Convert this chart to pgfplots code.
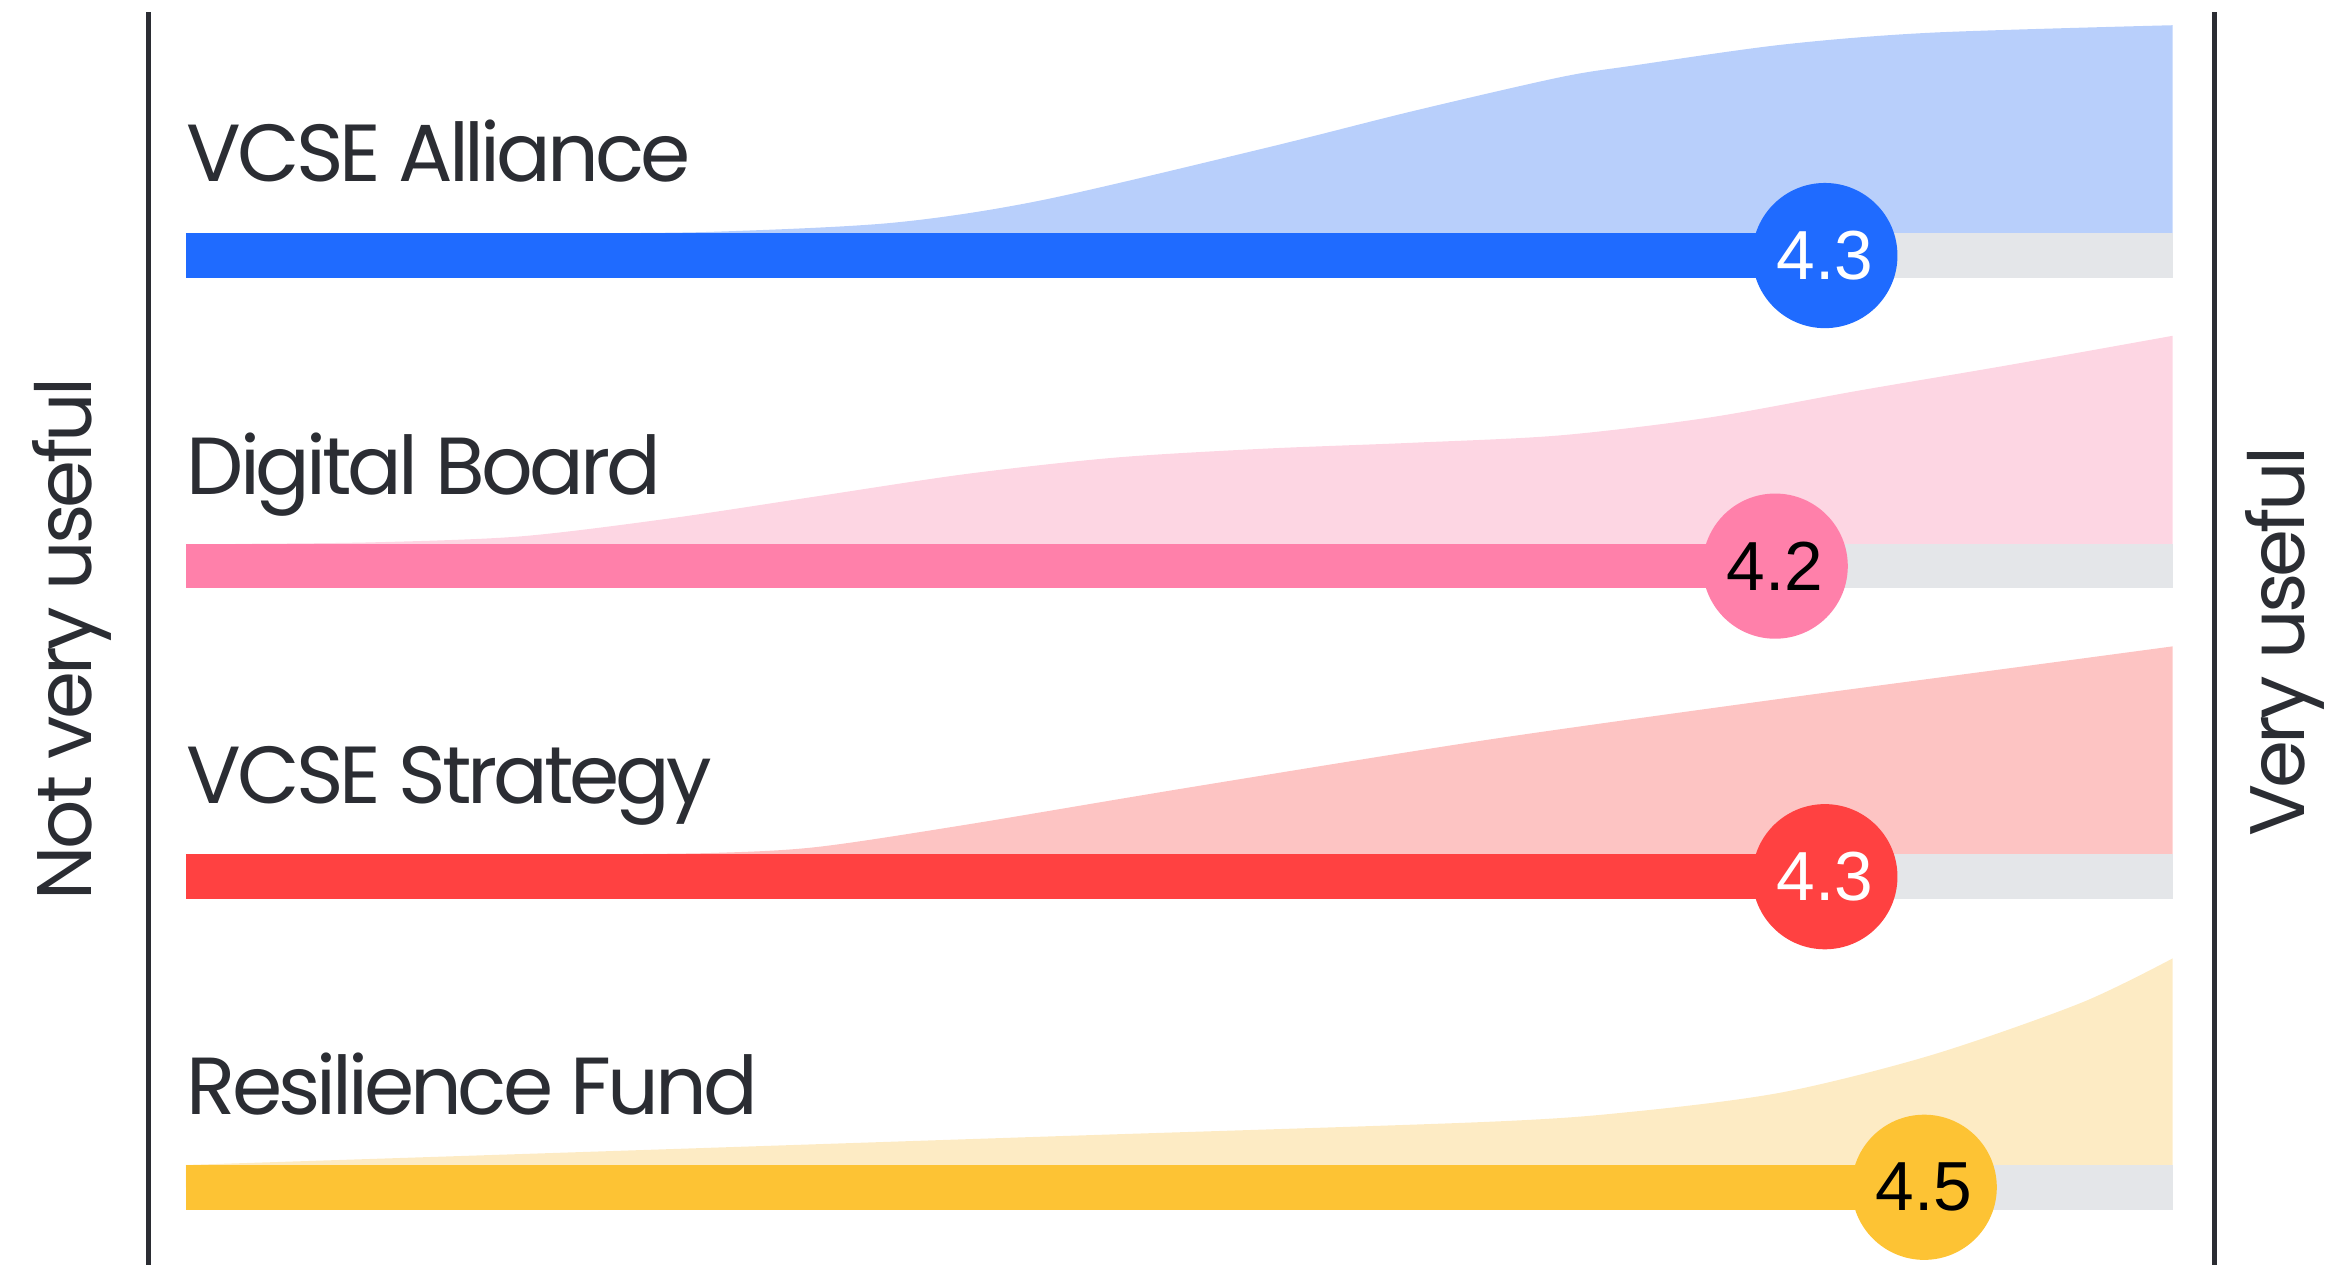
\documentclass[border=0pt]{standalone}
\usepackage{pgfplots}
\pgfplotsset{compat=1.18}
\usepackage{fontspec}
\setmainfont{Poppins}[LetterSpace=-5]
\newfontfamily\numfont{Liberation Sans}
\definecolor{txt}{HTML}{2B2D33}
\definecolor{track}{HTML}{E4E6E9}
\definecolor{bluebar}{HTML}{1F6BFF}
\definecolor{bluearea}{HTML}{B8CFFB}
\definecolor{pinkbar}{HTML}{FF80AA}
\definecolor{pinkarea}{HTML}{FDD6E3}
\definecolor{redbar}{HTML}{FF4141}
\definecolor{redarea}{HTML}{FDC4C3}
\definecolor{yelbar}{HTML}{FDC334}
\definecolor{yelarea}{HTML}{FDEBC4}
\tikzset{
  lab/.style={anchor=base west, inner sep=0pt, text=txt, font=\fontsize{15.5}{15.5}\selectfont},
  side/.style={rotate=90, inner sep=0pt, text=txt, font=\fontsize{14.8}{14.8}\selectfont}}
\begin{document}
\begin{tikzpicture}
\begin{axis}[width=15.68cm, height=8.51cm, scale only axis,
  xmin=0.626, xmax=5.317, ymin=0, ymax=851, hide axis, clip=false,
  dot/.style={only marks, mark=*, mark size=13.7pt, color=#1,
    point meta=explicit symbolic, nodes near coords,
    nodes near coords align=center,
    every node near coord/.append style={anchor=center, inner sep=0pt,
      font=\numfont\fontsize{13.3}{13.3}\selectfont}}]
\path (rel axis cs:0,0) rectangle (rel axis cs:1,1);
% areas
\addplot[draw=none, fill=bluearea, smooth] coordinates {(1.8,694) (2.062,695) (2.421,701) (2.720,716) (3.169,751) (3.468,776) (3.767,799) (3.917,807) (4.216,821) (4.515,829) (5.0,834)} |- (axis cs:1.8,679) -- cycle;
\addplot[draw=none, fill=pinkarea, smooth] coordinates {(1.1,485) (1.374,486) (1.673,490) (1.972,502) (2.271,517) (2.571,532) (2.870,543) (3.169,549) (3.468,553) (3.767,558) (4.067,570) (4.366,588) (4.665,605) (5.0,625)} |- (axis cs:1.1,470) -- cycle;
\addplot[draw=none, fill=redarea, smooth] coordinates {(1.8,276) (2.062,277) (2.271,281) (2.571,296) (3.019,321) (3.618,353) (4.216,381) (4.665,401) (5.0,416)} |- (axis cs:1.8,261) -- cycle;
\addplot[draw=none, fill=yelarea, smooth] coordinates {(1.0,67) (1.823,76) (2.720,86) (3.618,96) (3.917,103) (4.216,116) (4.515,141) (4.815,176) (5.0,206)} |- (axis cs:1.0,52) -- cycle;
% tracks
\addplot[track, line width=8.54pt] coordinates {(1,679) (5,679)};
\addplot[track, line width=8.54pt] coordinates {(1,470) (5,470)};
\addplot[track, line width=8.54pt] coordinates {(1,261) (5,261)};
\addplot[track, line width=8.54pt] coordinates {(1,52) (5,52)};
% bars
\addplot[bluebar, line width=8.54pt] coordinates {(1,679) (4.3,679)};
\addplot[pinkbar, line width=8.54pt] coordinates {(1,470) (4.2,470)};
\addplot[redbar, line width=8.54pt] coordinates {(1,261) (4.3,261)};
\addplot[yelbar, line width=8.54pt] coordinates {(1,52) (4.5,52)};
% dots with values
\addplot[dot=bluebar, every node near coord/.append style={text=white}] coordinates {(4.3,679) [4.3]};
\addplot[dot=pinkbar, every node near coord/.append style={text=black}] coordinates {(4.2,470) [4.2]};
\addplot[dot=redbar, every node near coord/.append style={text=white}] coordinates {(4.3,261) [4.3]};
\addplot[dot=yelbar, every node near coord/.append style={text=black}] coordinates {(4.5,52) [4.5]};
% category labels
\node[lab] at (axis cs:1,728.5) {VCSE Alliance};
\node[lab] at (axis cs:1,518) {Digital Board};
\node[lab] at (axis cs:1,310) {VCSE Strategy};
\node[lab] at (axis cs:1,101) {Resilience Fund};
% vertical lines
\addplot[txt, line width=0.85pt] coordinates {(0.925,0) (0.925,843)};
\addplot[txt, line width=0.85pt] coordinates {(5.084,0) (5.084,843)};
% side labels
\node[side] at (axis cs:0.770,421) {Not very useful};
\node[side] at (axis cs:5.227,419) {Very useful};
\end{axis}
\end{tikzpicture}
\end{document}
